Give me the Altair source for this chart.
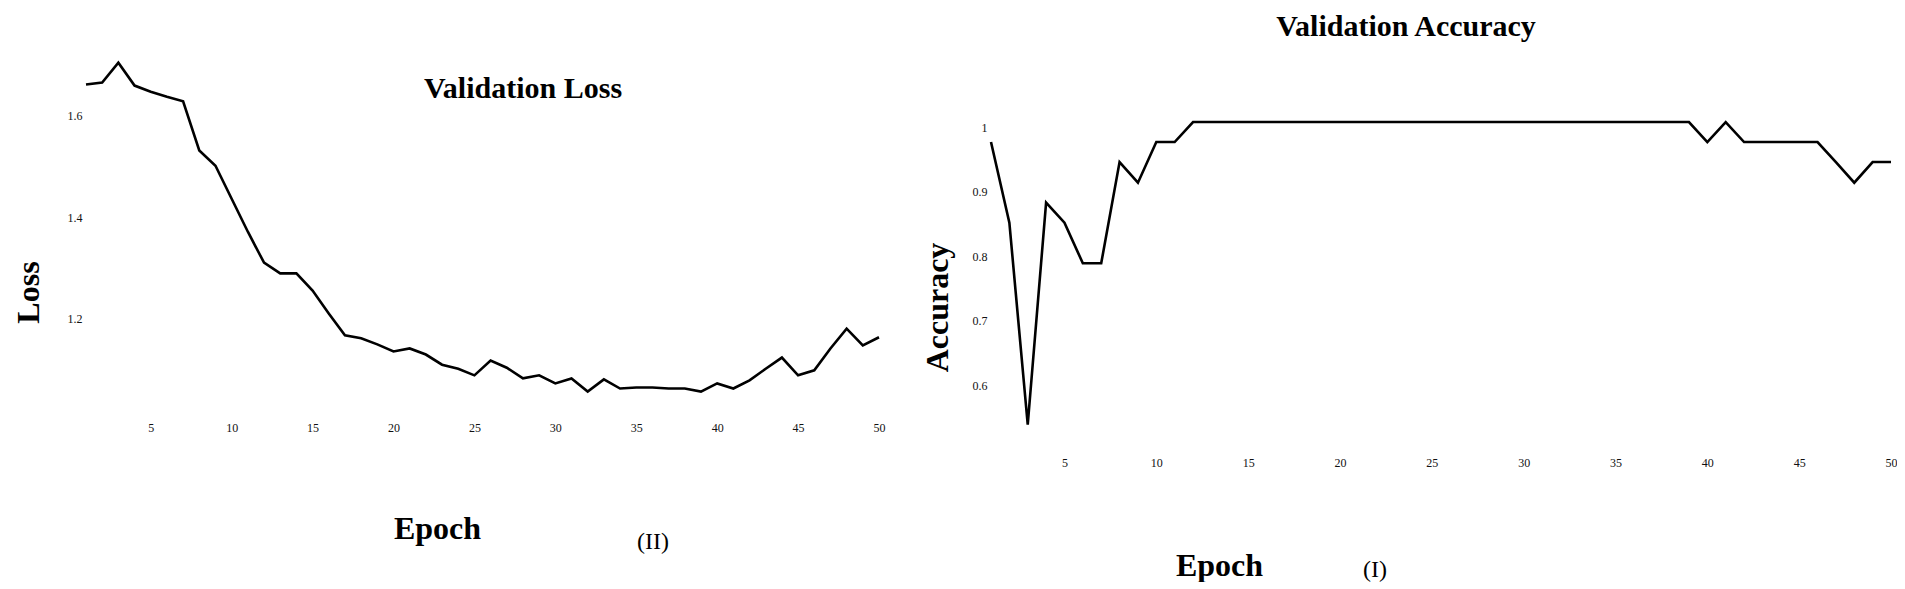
import altair as alt
import pandas as pd

# ---------------- data ----------------
epochs = list(range(1, 51))

val_loss = [1.661, 1.665, 1.704, 1.659, 1.647, 1.637, 1.628, 1.531, 1.501, 1.436,
            1.371, 1.310, 1.289, 1.289, 1.255, 1.210, 1.167, 1.161, 1.149, 1.135,
            1.141, 1.129, 1.109, 1.101, 1.088, 1.117, 1.103, 1.082, 1.088, 1.072,
            1.082, 1.056, 1.080, 1.062, 1.064, 1.064, 1.062, 1.062, 1.056, 1.072,
            1.062, 1.078, 1.101, 1.123, 1.088, 1.098, 1.141, 1.180, 1.147, 1.163]

val_acc = [0.969, 0.844, 0.531, 0.875, 0.844, 0.781, 0.781, 0.938, 0.906, 0.969,
           0.969, 1.0, 1.0, 1.0, 1.0, 1.0, 1.0, 1.0, 1.0, 1.0,
           1.0, 1.0, 1.0, 1.0, 1.0, 1.0, 1.0, 1.0, 1.0, 1.0,
           1.0, 1.0, 1.0, 1.0, 1.0, 1.0, 1.0, 1.0, 1.0, 0.969,
           1.0, 0.969, 0.969, 0.969, 0.969, 0.969, 0.938, 0.906, 0.938, 0.938]

epoch_ticks = [5, 10, 15, 20, 25, 30, 35, 40, 45, 50]
loss_ticks = [1.2, 1.4, 1.6]
acc_ticks = [0.6, 0.7, 0.8, 0.9, 1.0]

loss_title = ["Validation Loss"]
acc_title = ["Validation Accuracy"]
loss_panel = ["(II)"]
acc_panel = ["(I)"]

df_loss = pd.DataFrame({"Epoch": epochs, "Loss": val_loss})
df_acc = pd.DataFrame({"Epoch": epochs, "Accuracy": val_acc})

SERIF = "Liberation Serif"


def x_axis(title_x, title_y, pad):
    return alt.Axis(values=epoch_ticks, format="d", title="Epoch", domain=False, ticks=False,
                    grid=False, labelFont=SERIF, labelFontSize=12, labelColor="#111",
                    labelPadding=pad, labelFlush=False, labelOverlap=False,
                    titleFont=SERIF, titleFontSize=32, titleFontWeight="bold", titleColor="black",
                    titleX=title_x, titleY=title_y, titleBaseline="alphabetic", titleAlign="center")


def label(words, size, x, y, weight):
    return alt.Chart(pd.DataFrame({"t": words})).mark_text(
        font=SERIF, fontSize=size, fontWeight=weight,
        align="center", baseline="alphabetic", color="black"
    ).encode(text="t:N", x=alt.value(x), y=alt.value(y))


# ---------------- left panel: loss ----------------
LW, LH = 793, 380
left_line = alt.Chart(df_loss).mark_line(color="black", strokeWidth=2.6).encode(
    x=alt.X("Epoch:Q", scale=alt.Scale(domain=[1, 50], nice=False, zero=False),
            axis=x_axis(351, 118.5, 2)),
    y=alt.Y("Loss:Q", scale=alt.Scale(domain=[1.0, 1.0 + LH / 507.5], nice=False, zero=False),
            axis=alt.Axis(values=loss_ticks, format=".1f", title="Loss", domain=False, ticks=False,
                          grid=False, labelFont=SERIF, labelFontSize=12, labelColor="#111",
                          labelPadding=4, labelFlush=False, labelOverlap=False,
                          titleFont=SERIF, titleFontSize=32, titleFontWeight="bold", titleColor="black",
                          titleX=-73, titleY=252, titleAngle=270, titleBaseline="top",
                          titleAlign="center")),
)
left = alt.layer(
    left_line,
    label(loss_title, 30, 437, 58, "bold"),
    label(loss_panel, 24, 567, 509, "normal"),
).properties(width=LW, height=LH)

# ---------------- right panel: accuracy ----------------
RW, RH = 900, 411
right_line = alt.Chart(df_acc).mark_line(color="black", strokeWidth=2.6).encode(
    x=alt.X("Epoch:Q", scale=alt.Scale(domain=[1, 50], nice=False, zero=False),
            axis=x_axis(228, 124, 6)),
    y=alt.Y("Accuracy:Q", scale=alt.Scale(domain=[0.49, 0.49 + RH / 645.0], nice=False, zero=False),
            axis=alt.Axis(values=acc_ticks, format="~g", title="Accuracy", domain=False, ticks=False,
                          grid=False, labelFont=SERIF, labelFontSize=12, labelColor="#111",
                          labelPadding=4, labelOffset=5, labelFlush=False, labelOverlap=False,
                          titleFont=SERIF, titleFontSize=32, titleFontWeight="bold", titleColor="black",
                          titleX=-69, titleY=267, titleAngle=270, titleBaseline="top",
                          titleAlign="center")),
)
right = alt.layer(
    right_line,
    label(acc_title, 30, 415, -4, "bold"),
    label(acc_panel, 24, 384, 537, "normal"),
).properties(width=RW, height=RH)

chart = alt.hconcat(left, right, spacing=112, bounds="flush").properties(
    padding={"left": 4, "top": 4, "right": 0, "bottom": 0},
    background="white",
).configure_view(stroke=None)

chart.save("out.html", embed_options={"renderer": "svg", "actions": False})
